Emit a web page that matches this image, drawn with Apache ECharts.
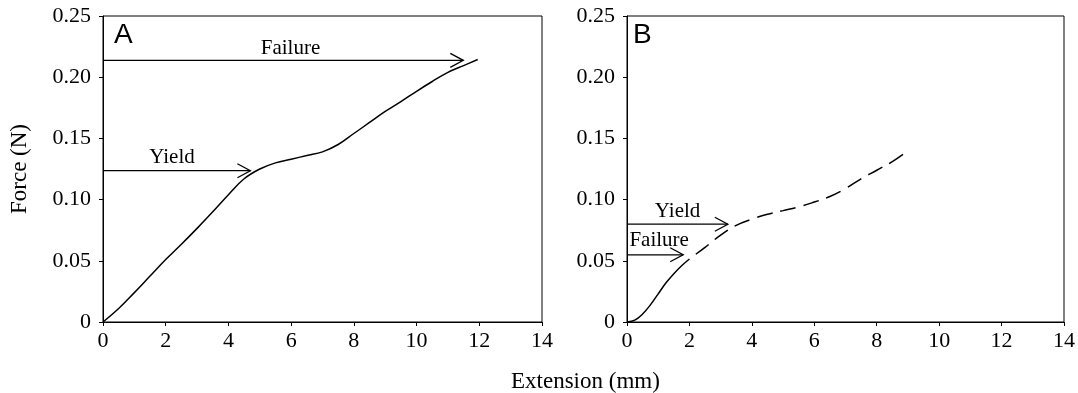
<!DOCTYPE html>
<html>
<head>
<meta charset="utf-8">
<script src="https://cdn.jsdelivr.net/npm/echarts@6/dist/echarts.min.js"></script>
<style>
  html, body { margin: 0; padding: 0; background: #fff; }
  #main { width: 1078px; height: 393px; }
</style>
</head>
<body>
<div id="main"></div>
<script>
// curve values: [extension mm, force N]
var curveA = [
  [0, 0], [0.5, 0.011], [1, 0.024], [1.5, 0.0375], [2, 0.051], [2.5, 0.0635],
  [3, 0.0765], [3.5, 0.090], [4, 0.104], [4.5, 0.117], [5, 0.125], [5.5, 0.130],
  [6, 0.133], [6.5, 0.136], [7, 0.139], [7.5, 0.145], [8, 0.154], [8.5, 0.163],
  [9, 0.172], [9.5, 0.180], [10, 0.1885], [10.5, 0.1965], [11, 0.204],
  [11.5, 0.2095], [11.95, 0.2145]
];
var curveBSolid = [
  [0, 0], [0.25, 0.0015], [0.5, 0.0065], [0.75, 0.014], [1, 0.023],
  [1.25, 0.032], [1.5, 0.0395], [1.75, 0.046], [2, 0.0515]
];
var curveBDashed = [
  [2, 0.0515], [2.5, 0.061], [3, 0.071], [3.5, 0.079], [4, 0.084], [4.5, 0.088],
  [5, 0.091], [5.5, 0.094], [6, 0.098], [6.5, 0.1025], [7, 0.109], [7.5, 0.117],
  [8, 0.124], [8.5, 0.131], [8.85, 0.137]
];

// annotation arrows: tip x, level y, label text and label centre
var arrowNames = ['Failure', 'Yield'];
var arrowsA = [[11.49, 0.2138, 5.98, 0.2235], [4.70, 0.1236, 2.2, 0.134]];
var arrowsB = [[1.80, 0.0549, 1.03, 0.067], [3.23, 0.0799, 1.62, 0.0899]];

var xTicks = [0, 2, 4, 6, 8, 10, 12, 14];
var yTicks = [0, 0.05, 0.10, 0.15, 0.20, 0.25];

var serif = '"Liberation Serif", "Times New Roman", serif';
var myChart = echarts.init(document.getElementById('main'));

function xAxisCfg(idx) {
  return {
    type: 'value', gridIndex: idx, min: xTicks[0], max: xTicks[xTicks.length - 1], interval: 2,
    axisLine: { lineStyle: { color: '#000', width: 1 } },
    axisTick: { inside: false, length: 4, lineStyle: { color: '#000' } },
    axisLabel: { color: '#000', fontFamily: serif, fontSize: 22, margin: 8 },
    splitLine: { show: false }
  };
}
function yAxisCfg(idx) {
  var cfg = {
    type: 'value', gridIndex: idx, min: yTicks[0], max: yTicks[yTicks.length - 1], interval: 0.05,
    axisLine: { show: true, lineStyle: { color: '#000', width: 1 } },
    axisTick: { show: true, inside: false, length: 4, lineStyle: { color: '#000' } },
    axisLabel: {
      color: '#000', fontFamily: serif, fontSize: 22, margin: 12,
      formatter: function (v) { return v === 0 ? '0' : v.toFixed(2); }
    },
    splitLine: { show: false }
  };
  if (idx === 0) {
    cfg.name = 'Force (N)';
    cfg.nameLocation = 'middle';
    cfg.nameRotate = 90;
    cfg.nameGap = 72;
    cfg.nameTextStyle = { color: '#000', fontFamily: serif, fontSize: 23 };
  }
  return cfg;
}

function arrowSeries(idx, list) {
  return {
    type: 'custom',
    xAxisIndex: idx, yAxisIndex: idx,
    silent: true,
    data: list.map(function (a, i) { return [a[0], a[1], i]; }),
    renderItem: function (params, api) {
      var a = list[params.dataIndex];
      var start = api.coord([0, a[1]]);
      var tip = api.coord([a[0], a[1]]);
      var lab = api.coord([a[2], a[3]]);
      return {
        type: 'group',
        children: [
          { type: 'line', shape: { x1: start[0], y1: start[1], x2: tip[0], y2: tip[1] },
            style: { stroke: '#000', lineWidth: 1.3 } },
          { type: 'polyline',
            shape: { points: [[tip[0] - 13, tip[1] - 7], [tip[0], tip[1]], [tip[0] - 13, tip[1] + 7]] },
            style: { stroke: '#000', fill: null, lineWidth: 1.3 } },
          { type: 'text',
            style: { text: arrowNames[params.dataIndex], x: lab[0], y: lab[1],
              align: 'center', verticalAlign: 'middle',
              font: '21px ' + serif, fill: '#000' } }
        ]
      };
    }
  };
}

var lineStyleBase = { color: '#000', width: 1.5 };

option = {
  animation: false,
  backgroundColor: '#fff',
  grid: [
    { left: 103, top: 16, width: 439, height: 306, show: true, borderColor: '#000', borderWidth: 1, backgroundColor: 'transparent' },
    { left: 627, top: 16, width: 437, height: 306, show: true, borderColor: '#000', borderWidth: 1, backgroundColor: 'transparent' }
  ],
  xAxis: [xAxisCfg(0), xAxisCfg(1)],
  yAxis: [yAxisCfg(0), yAxisCfg(1)],
  graphic: [
    { type: 'text', left: 511, top: 370, style: { text: 'Extension (mm)', font: '23px ' + serif, fill: '#000' } },
    { type: 'text', left: 114, top: 21, style: { text: 'A', font: '28px "Liberation Sans", Arial, sans-serif', fill: '#000' } },
    { type: 'text', left: 633, top: 21, style: { text: 'B', font: '28px "Liberation Sans", Arial, sans-serif', fill: '#000' } }
  ],
  series: [
    { type: 'line', xAxisIndex: 0, yAxisIndex: 0, data: curveA, smooth: 0.4, showSymbol: false, lineStyle: lineStyleBase },
    { type: 'line', xAxisIndex: 1, yAxisIndex: 1, data: curveBSolid, smooth: 0.4, showSymbol: false, lineStyle: lineStyleBase },
    { type: 'line', xAxisIndex: 1, yAxisIndex: 1, data: curveBDashed, smooth: 0.4, showSymbol: false,
      lineStyle: { color: '#000', width: 1.5, type: [16, 8], dashOffset: 16 } },
    arrowSeries(0, arrowsA),
    arrowSeries(1, arrowsB)
  ]
};

myChart.setOption(option);
</script>
</body>
</html>
